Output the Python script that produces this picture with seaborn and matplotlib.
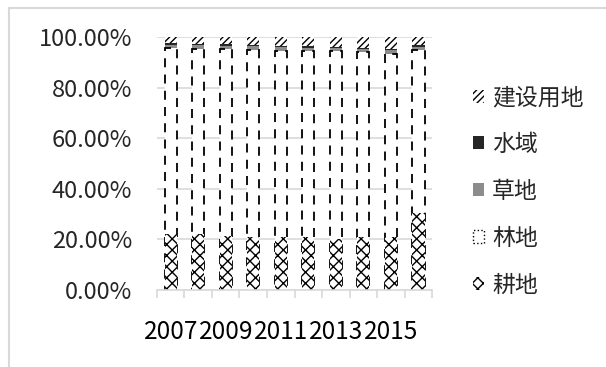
import numpy as np
import pandas as pd
import seaborn as sns
import matplotlib
matplotlib.use("Agg")
from matplotlib import pyplot as plt
from matplotlib.patches import Patch, Rectangle

years = ['2007', '2008', '2009', '2010', '2011', '2012', '2013', '2014', '2015', '2016']
tick_labels = ['2007', '', '2009', '', '2011', '', '2013', '', '2015', '']

# land use shares (%)
gengdi = [22.0, 22.0, 21.5, 21.0, 21.0, 21.0, 20.0, 21.0, 21.0, 30.5]      # 耕地
lindi = [73.6, 73.4, 73.7, 74.0, 73.6, 73.4, 74.3, 72.9, 72.5, 64.5]       # 林地
caodi = [1.4, 1.4, 1.4, 1.4, 1.4, 1.4, 1.3, 1.3, 1.3, 1.2]                 # 草地
shuiyu = [0.6, 0.6, 0.6, 0.6, 0.6, 0.6, 0.6, 0.6, 0.6, 0.6]                # 水域
jianshe = [2.4, 2.6, 2.8, 3.0, 3.4, 3.6, 3.8, 4.2, 4.6, 3.2]               # 建设用地

names = ['耕地', '林地', '草地', '水域', '建设用地']

sns.set_theme(style='white')
plt.rcParams['font.family'] = ['Noto Sans CJK SC', 'DejaVu Sans']
plt.rcParams['hatch.color'] = 'black'
plt.rcParams['hatch.linewidth'] = 1.0

df = pd.DataFrame({'year': years, '耕地': gengdi, '林地': lindi, '草地': caodi,
                   '水域': shuiyu, '建设用地': jianshe})
shares = df[names].div(df[names].sum(axis=1), axis=0) * 100
cum = shares.cumsum(axis=1)

fig = plt.figure(figsize=(6.06, 3.67), dpi=100)
ax = fig.add_axes([0.259, 0.210, 0.454, 0.689])

styles = {
    '建设用地': dict(facecolor='white', edgecolor='black', linewidth=0, hatch='/////'),
    '水域': dict(facecolor='#262626', edgecolor='none'),
    '草地': dict(facecolor='#8c8c8c', edgecolor='none'),
    '林地': dict(facecolor='white', edgecolor='black', linestyle=(0, (5, 4)), linewidth=1.3),
    '耕地': dict(facecolor='white', edgecolor='black', linewidth=0, hatch='xxx'),
}

# draw cumulative bars from the top layer down, each covering the one before
for name in names[::-1]:
    sns.barplot(x=df['year'], y=cum[name], ax=ax, width=0.45, order=years, **styles[name])

ax.set_ylim(0, 100)
ax.set_xlim(-0.5, 9.5)
ax.set_yticks(np.arange(0, 101, 20))
ax.set_yticklabels(['{:.2f}%'.format(v) for v in np.arange(0, 101, 20)])
ax.set_xticks(np.arange(-0.5, 10, 1), minor=True)
ax.set_xticks(range(len(years)))
ax.set_xticklabels(tick_labels)
ax.tick_params(axis='x', which='major', length=0, pad=21, labelsize=17.5, colors='black')
ax.tick_params(axis='x', which='minor', length=6, width=1.2, color='#d9d9d9', direction='out', bottom=True)
ax.tick_params(axis='y', length=0, pad=18, labelsize=17)
ax.set_xlabel('')
ax.set_ylabel('')
ax.yaxis.grid(True, color='#d9d9d9', linewidth=1.2)
ax.set_axisbelow(True)
for s in ['top', 'right', 'left']:
    ax.spines[s].set_visible(False)
ax.spines['bottom'].set_color('#d9d9d9')
ax.spines['bottom'].set_linewidth(1.2)

handles = [
    Patch(facecolor='white', edgecolor='black', linewidth=0, hatch='/////', label='建设用地'),
    Patch(facecolor='#262626', edgecolor='none', label='水域'),
    Patch(facecolor='#8c8c8c', edgecolor='none', label='草地'),
    Patch(facecolor='white', edgecolor='black', linestyle=':', label='林地'),
    Patch(facecolor='white', edgecolor='black', linewidth=0, hatch='xxx', label='耕地'),
]
fig.legend(handles=handles, loc='upper left', bbox_to_anchor=(0.765, 0.79), frameon=False,
           fontsize=16.5, handlelength=0.5, handleheight=0.5, handletextpad=0.35,
           labelspacing=1.04, borderaxespad=0)

fig.patches.append(Rectangle((9 / 606, -0.1), 1.2, 1 - 8 / 367 + 0.1, transform=fig.transFigure,
                             facecolor='none', edgecolor='#d9d9d9', linewidth=1.5))

fig.savefig('out.png', dpi=100)
